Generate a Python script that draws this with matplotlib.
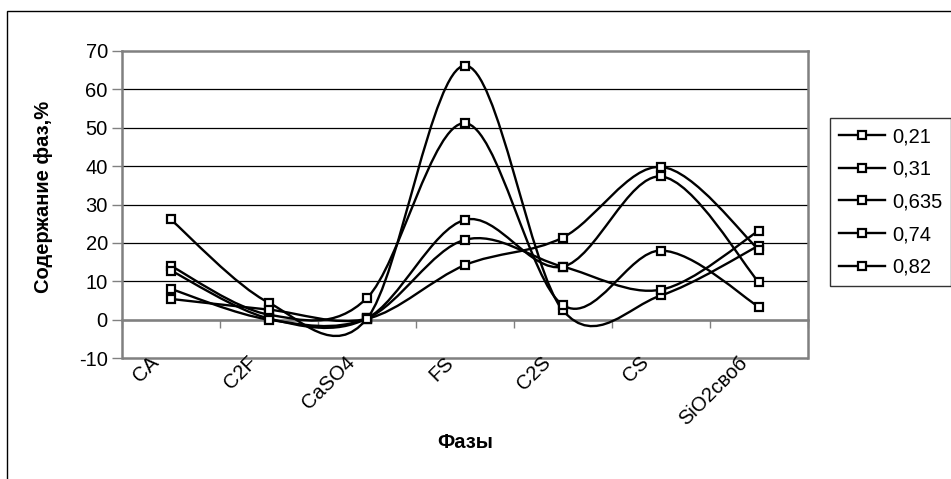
import numpy as np
import matplotlib
matplotlib.use("Agg")
import matplotlib.pyplot as plt
from matplotlib.path import Path
from matplotlib.patches import PathPatch, Rectangle
from matplotlib.lines import Line2D
import matplotlib.transforms as mtransforms

categories = ["CA", "C2F", "CaSO4", "FS", "C2S", "CS", "SiO2своб"]
series_names = ["0,21", "0,31", "0,635", "0,74", "0,82"]
s_021 = [26.1, 4.4, 0.2, 66.2, 2.4, 6.3, 19.3]
s_031 = [14.0, 1.3, 5.6, 51.2, 3.8, 18.0, 3.3]
s_0635 = [12.8, 0.3, 0.3, 26.0, 13.8, 37.3, 9.7]
s_074 = [8.0, 0.0, 0.3, 20.8, 13.8, 7.8, 23.2]
s_082 = [5.4, 2.6, 0.2, 14.2, 21.4, 39.8, 18.2]
all_series = [s_021, s_031, s_0635, s_074, s_082]
y_ticks = [-10, 0, 10, 20, 30, 40, 50, 60, 70]

plt.rcParams['font.family'] = ['Liberation Sans', 'DejaVu Sans']
FS = 14.5

fig = plt.figure(figsize=(9.51, 4.79), dpi=100)
ax = fig.add_axes([121.7 / 951, 1 - 358 / 479, (808 - 121.7) / 951, (358 - 51) / 479])

# outer chart frame
fig.patches.append(Rectangle((7 / 951, -0.2), 1.2, 1 - 11 / 479 + 0.2,
                             transform=fig.transFigure, fill=False,
                             edgecolor='black', linewidth=1.0))


def smooth_path(xs, ys):
    pts = np.column_stack([xs, ys]).astype(float)
    n = len(pts)
    verts = [pts[0]]
    codes = [Path.MOVETO]
    for i in range(n - 1):
        p0 = pts[i - 1] if i > 0 else pts[i]
        p1 = pts[i]
        p2 = pts[i + 1]
        p3 = pts[i + 2] if i + 2 < n else pts[i + 1]
        c1 = p1 + (p2 - p0) / 6.0
        c2 = p2 - (p3 - p1) / 6.0
        verts += [c1, c2, p2]
        codes += [Path.CURVE4] * 3
    return Path(verts, codes)


x = np.arange(len(categories))
for vals, name in zip(all_series, series_names):
    ax.add_patch(PathPatch(smooth_path(x, vals), facecolor='none',
                           edgecolor='black', linewidth=1.7, zorder=3))
    ax.plot(x, vals, linestyle='none', marker='s', markersize=6,
            markerfacecolor='white', markeredgecolor='black',
            markeredgewidth=1.6, zorder=4)

ax.set_xlim(-0.5, len(categories) - 0.5)
ax.set_ylim(-10, 70)
ax.set_yticks(y_ticks)
ax.set_yticklabels([str(t) for t in y_ticks], fontsize=FS)
for t in y_ticks[1:-1]:
    ax.axhline(t, color='black', linewidth=0.9, zorder=1)

for sp in ['top', 'right', 'left']:
    ax.spines[sp].set_color('#808080')
    ax.spines[sp].set_linewidth(1.8)
ax.spines['bottom'].set_position(('data', 0))
ax.spines['bottom'].set_color('#808080')
ax.spines['bottom'].set_linewidth(1.8)
ax.add_patch(Rectangle((0, 0), 1, 0.0001, transform=ax.transAxes, fill=False,
                       edgecolor='#808080', linewidth=1.8, clip_on=False))

ax.set_xticks(np.arange(-0.5, len(categories), 1.0))
ax.set_xticklabels([])
ax.tick_params(axis='x', direction='out', length=6, width=1, color='#808080')
ax.tick_params(axis='y', direction='out', length=7, width=1, color='#808080',
               pad=3)

trans = mtransforms.blended_transform_factory(ax.transData, ax.transAxes)
offset = mtransforms.ScaledTranslation(-8 / 100, 5 / 100, fig.dpi_scale_trans)
for i, c in enumerate(categories):
    ax.text(i, 0, c, transform=trans + offset, rotation=45, ha='right',
            va='top', fontsize=FS, rotation_mode='default')

fig.text(465 / 951, 1 - 443 / 479, "Фазы", ha='center', va='center',
         fontsize=FS, fontweight='bold')
fig.text(44 / 951, 1 - 197 / 479, "Содержание фаз,%", ha='center',
         va='center', rotation=90, fontsize=FS, fontweight='bold')

handles = [Line2D([], [], color='black', linewidth=1.7, marker='s',
                  markersize=6, markerfacecolor='white',
                  markeredgecolor='black', markeredgewidth=1.6)
           for _ in series_names]
leg = fig.legend(handles, series_names, loc='upper left',
                 bbox_to_anchor=(830 / 951, 1 - 118 / 479), fontsize=FS,
                 frameon=True, fancybox=False, shadow=False,
                 handlelength=2.3, handletextpad=0.32, labelspacing=0.68,
                 borderpad=0.45, borderaxespad=0)
leg.get_frame().set_edgecolor('black')
leg.get_frame().set_linewidth(1.0)

fig.savefig("out.png", dpi=100)
